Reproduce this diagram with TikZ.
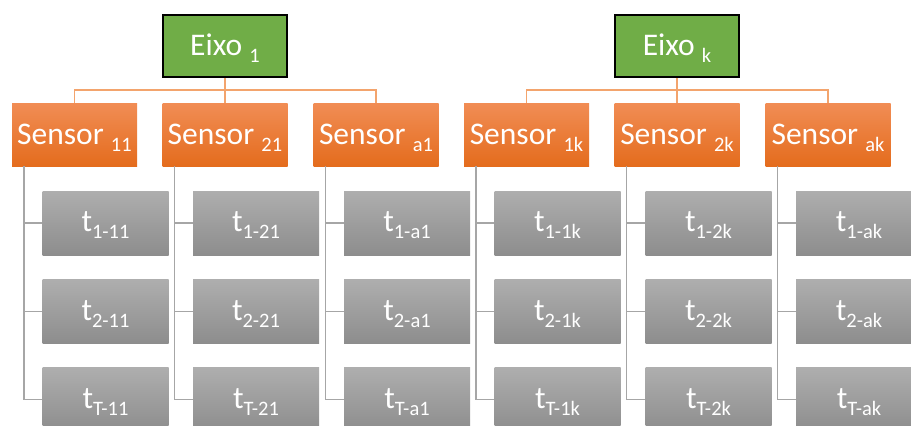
\documentclass[tikz,border=0pt]{standalone}
\usepackage{fontspec}
\setmainfont{Carlito}
\definecolor{eixogreen}{HTML}{70AD47}
\definecolor{sensortop}{HTML}{F18D55}
\definecolor{sensorbot}{HTML}{E46C1D}
\definecolor{linkorange}{HTML}{F3A46D}
\definecolor{tboxtop}{HTML}{AEAEAE}
\definecolor{tboxbot}{HTML}{8D8D8D}
\definecolor{linkgray}{HTML}{A6A6A6}
\newcommand{\idx}[1]{\raisebox{-7pt}{\fontsize{20.5}{21}\selectfont #1}}
\tikzset{
  eixo/.style={draw=black, line width=2pt, fill=eixogreen, minimum width=124pt, minimum height=62pt,
    text=white, font=\fontsize{31.5}{36}\selectfont, text height=18pt, text depth=0pt, inner sep=0pt},
  sensor/.style={top color=sensortop, bottom color=sensorbot, minimum width=125pt, minimum height=63pt,
    text=white, font=\fontsize{31.5}{36}\selectfont, text height=19.5pt, text depth=0pt, inner sep=0pt},
  tbox/.style={top color=tboxtop, bottom color=tboxbot, minimum width=126pt, minimum height=64pt,
    text=white, font=\fontsize{31.5}{36}\selectfont, text height=17pt, text depth=0pt, inner sep=0pt},
  olink/.style={draw=linkorange, line width=1.5pt},
  glink/.style={draw=linkgray, line width=1.5pt}
}
\begin{document}
\begin{tikzpicture}[x=1pt,y=-1pt]
\path[use as bounding box, clip] (0,0) rectangle (911,426);

\node[eixo] (e1) at (225,46) {Eixo \idx{1}};
\node[eixo] (ek) at (677,46) {Eixo \idx{k}};

\node[sensor] (s11) at (74.5,134.5) {Sensor \idx{11}};
\node[sensor] (s21) at (225,134.5) {Sensor \idx{21}};
\node[sensor] (sa1) at (376,134.5) {Sensor \idx{a1}};
\node[sensor] (s1k) at (526.5,134.5) {Sensor \idx{1k}};
\node[sensor] (s2k) at (677,134.5) {Sensor \idx{2k}};
\node[sensor] (sak) at (828,134.5) {Sensor \idx{ak}};

\node[tbox] (t1s11) at (105.5,223) {t\idx{1-11}};
\node[tbox] (t2s11) at (105.5,311.5) {t\idx{2-11}};
\node[tbox] (tTs11) at (105.5,399.5) {t\idx{T-11}};
\node[tbox] (t1s21) at (256,223) {t\idx{1-21}};
\node[tbox] (t2s21) at (256,311.5) {t\idx{2-21}};
\node[tbox] (tTs21) at (256,399.5) {t\idx{T-21}};
\node[tbox] (t1sa1) at (407,223) {t\idx{1-a1}};
\node[tbox] (t2sa1) at (407,311.5) {t\idx{2-a1}};
\node[tbox] (tTsa1) at (407,399.5) {t\idx{T-a1}};
\node[tbox] (t1s1k) at (557.5,223) {t\idx{1-1k}};
\node[tbox] (t2s1k) at (557.5,311.5) {t\idx{2-1k}};
\node[tbox] (tTs1k) at (557.5,399.5) {t\idx{T-1k}};
\node[tbox] (t1s2k) at (708.5,223) {t\idx{1-2k}};
\node[tbox] (t2s2k) at (708.5,311.5) {t\idx{2-2k}};
\node[tbox] (tTs2k) at (708.5,399.5) {t\idx{T-2k}};
\node[tbox] (t1sak) at (859,223) {t\idx{1-ak}};
\node[tbox] (t2sak) at (859,311.5) {t\idx{2-ak}};
\node[tbox] (tTsak) at (859,399.5) {t\idx{T-ak}};

\draw[olink] (e1.south) -- ++(0,12) -| (s11.north);
\draw[olink] (e1.south) -- (s21.north);
\draw[olink] (e1.south) -- ++(0,12) -| (sa1.north);
\draw[olink] (ek.south) -- ++(0,12) -| (s1k.north);
\draw[olink] (ek.south) -- (s2k.north);
\draw[olink] (ek.south) -- ++(0,12) -| (sak.north);

\draw[glink] ([xshift=12pt]s11.south west) |- (t1s11.west);
\draw[glink] ([xshift=12pt]s11.south west) |- (t2s11.west);
\draw[glink] ([xshift=12pt]s11.south west) |- (tTs11.west);
\draw[glink] ([xshift=12pt]s21.south west) |- (t1s21.west);
\draw[glink] ([xshift=12pt]s21.south west) |- (t2s21.west);
\draw[glink] ([xshift=12pt]s21.south west) |- (tTs21.west);
\draw[glink] ([xshift=12pt]sa1.south west) |- (t1sa1.west);
\draw[glink] ([xshift=12pt]sa1.south west) |- (t2sa1.west);
\draw[glink] ([xshift=12pt]sa1.south west) |- (tTsa1.west);
\draw[glink] ([xshift=12pt]s1k.south west) |- (t1s1k.west);
\draw[glink] ([xshift=12pt]s1k.south west) |- (t2s1k.west);
\draw[glink] ([xshift=12pt]s1k.south west) |- (tTs1k.west);
\draw[glink] ([xshift=12pt]s2k.south west) |- (t1s2k.west);
\draw[glink] ([xshift=12pt]s2k.south west) |- (t2s2k.west);
\draw[glink] ([xshift=12pt]s2k.south west) |- (tTs2k.west);
\draw[glink] ([xshift=12pt]sak.south west) |- (t1sak.west);
\draw[glink] ([xshift=12pt]sak.south west) |- (t2sak.west);
\draw[glink] ([xshift=12pt]sak.south west) |- (tTsak.west);
\end{tikzpicture}
\end{document}
